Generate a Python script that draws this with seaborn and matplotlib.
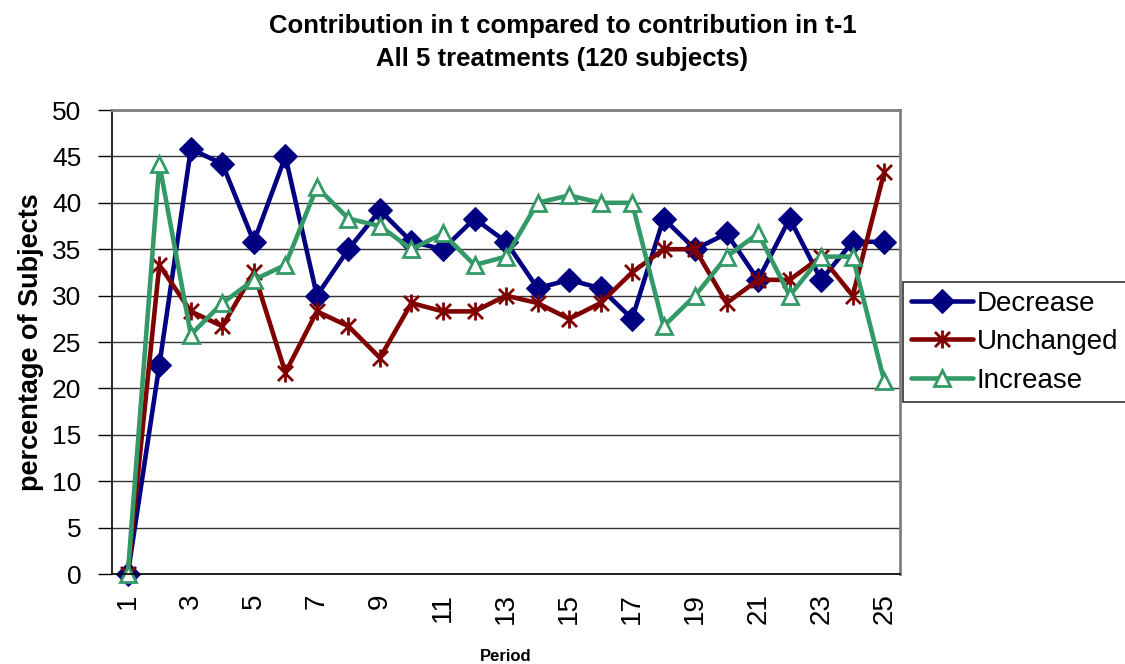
import numpy as np
import pandas as pd
import matplotlib
matplotlib.use("Agg")
import matplotlib.pyplot as plt
from matplotlib.path import Path
import seaborn as sns

periods = list(range(1, 26))
decrease = [0, 22.5, 45.8, 44.2, 35.8, 45.0, 30.0, 35.0, 39.2, 35.8, 35.0, 38.3, 35.8,
            30.8, 31.7, 30.8, 27.5, 38.3, 35.0, 36.7, 31.7, 38.3, 31.7, 35.8, 35.8]
unchanged = [0, 33.3, 28.3, 26.7, 32.5, 21.7, 28.3, 26.7, 23.3, 29.2, 28.3, 28.3, 30.0,
             29.2, 27.5, 29.2, 32.5, 35.0, 35.0, 29.2, 31.7, 31.7, 34.2, 30.0, 43.3]
increase = [0, 44.2, 25.8, 29.2, 31.7, 33.3, 41.7, 38.3, 37.5, 35.0, 36.7, 33.3, 34.2,
            40.0, 40.8, 40.0, 40.0, 26.7, 30.0, 34.2, 36.7, 30.0, 34.2, 34.2, 20.8]
x_tick_labels = [str(p) for p in periods if p % 2 == 1]

sns.set_style("white")
plt.rcParams['font.family'] = ['Liberation Sans', 'DejaVu Sans']
plt.rcParams.update({'text.color': 'black', 'axes.labelcolor': 'black',
                     'xtick.color': 'black', 'ytick.color': 'black'})

# excel style star: X with a vertical bar
star = Path([(-1, -1), (1, 1), (-1, 1), (1, -1), (0, -1.2), (0, 1.2)],
            [Path.MOVETO, Path.LINETO, Path.MOVETO, Path.LINETO, Path.MOVETO, Path.LINETO])

fig = plt.figure(figsize=(11.25, 6.64), dpi=100)
ax = fig.add_axes([0.0996, 0.1355, 0.7004, 0.6988])

ax.yaxis.grid(True, color='#333333', linewidth=1)
ax.set_axisbelow(True)

sns.lineplot(x=periods, y=decrease, ax=ax, color='#000080', linewidth=3.3,
             marker='D', markersize=12, markeredgecolor='#000080', label='Decrease', clip_on=False)
sns.lineplot(x=periods, y=unchanged, ax=ax, color='#800000', linewidth=3.3,
             marker=star, markersize=13, markeredgewidth=2, markerfacecolor='none',
             markeredgecolor='#800000', label='Unchanged', clip_on=False)
sns.lineplot(x=periods, y=increase, ax=ax, color='#339966', linewidth=3.3,
             marker='^', markersize=12, markeredgewidth=2, markerfacecolor='white',
             markeredgecolor='#339966', label='Increase', clip_on=False)

ax.set_xlim(0.5, 25.5)
ax.set_ylim(0, 50)
ax.set_yticks(np.arange(0, 51, 5))
ax.set_xticks([p for p in periods if p % 2 == 1])
ax.set_xticklabels(x_tick_labels, rotation=90)
ax.set_xticks(np.arange(0.5, 26, 1), minor=True)
ax.tick_params(axis='x', which='major', length=0, labelsize=20, pad=14)
ax.tick_params(axis='x', which='minor', length=9, width=1, color='black', direction='out')
ax.tick_params(axis='y', length=10, width=1, color='black', direction='out', labelsize=19,
               left=True, pad=12)

for s in ['left', 'bottom']:
    ax.spines[s].set_color('black')
    ax.spines[s].set_linewidth(1.2)
for s in ['top', 'right']:
    ax.spines[s].set_color('#808080')
    ax.spines[s].set_linewidth(2)

ax.set_xlabel('Period', fontsize=12, fontweight='bold', labelpad=18)
ax.set_ylabel('percentage of Subjects', fontsize=19.5, fontweight='bold', labelpad=6)
fig.text(0.5, 1 - 33 / 664, 'Contribution in t compared to contribution in t-1',
         ha='center', va='baseline', fontsize=18.5, fontweight='bold')
fig.text(0.5, 1 - 66 / 664, 'All 5 treatments (120 subjects)',
         ha='center', va='baseline', fontsize=18.5, fontweight='bold')

leg = ax.legend(loc='center left', bbox_to_anchor=(1.004, 0.5), fontsize=20, frameon=True,
                fancybox=False, edgecolor='black', borderpad=0.3, labelspacing=0.45,
                handlelength=2.2, handletextpad=0.15, borderaxespad=0)
leg.get_frame().set_linewidth(1.2)

fig.savefig('out.png', dpi=100)
